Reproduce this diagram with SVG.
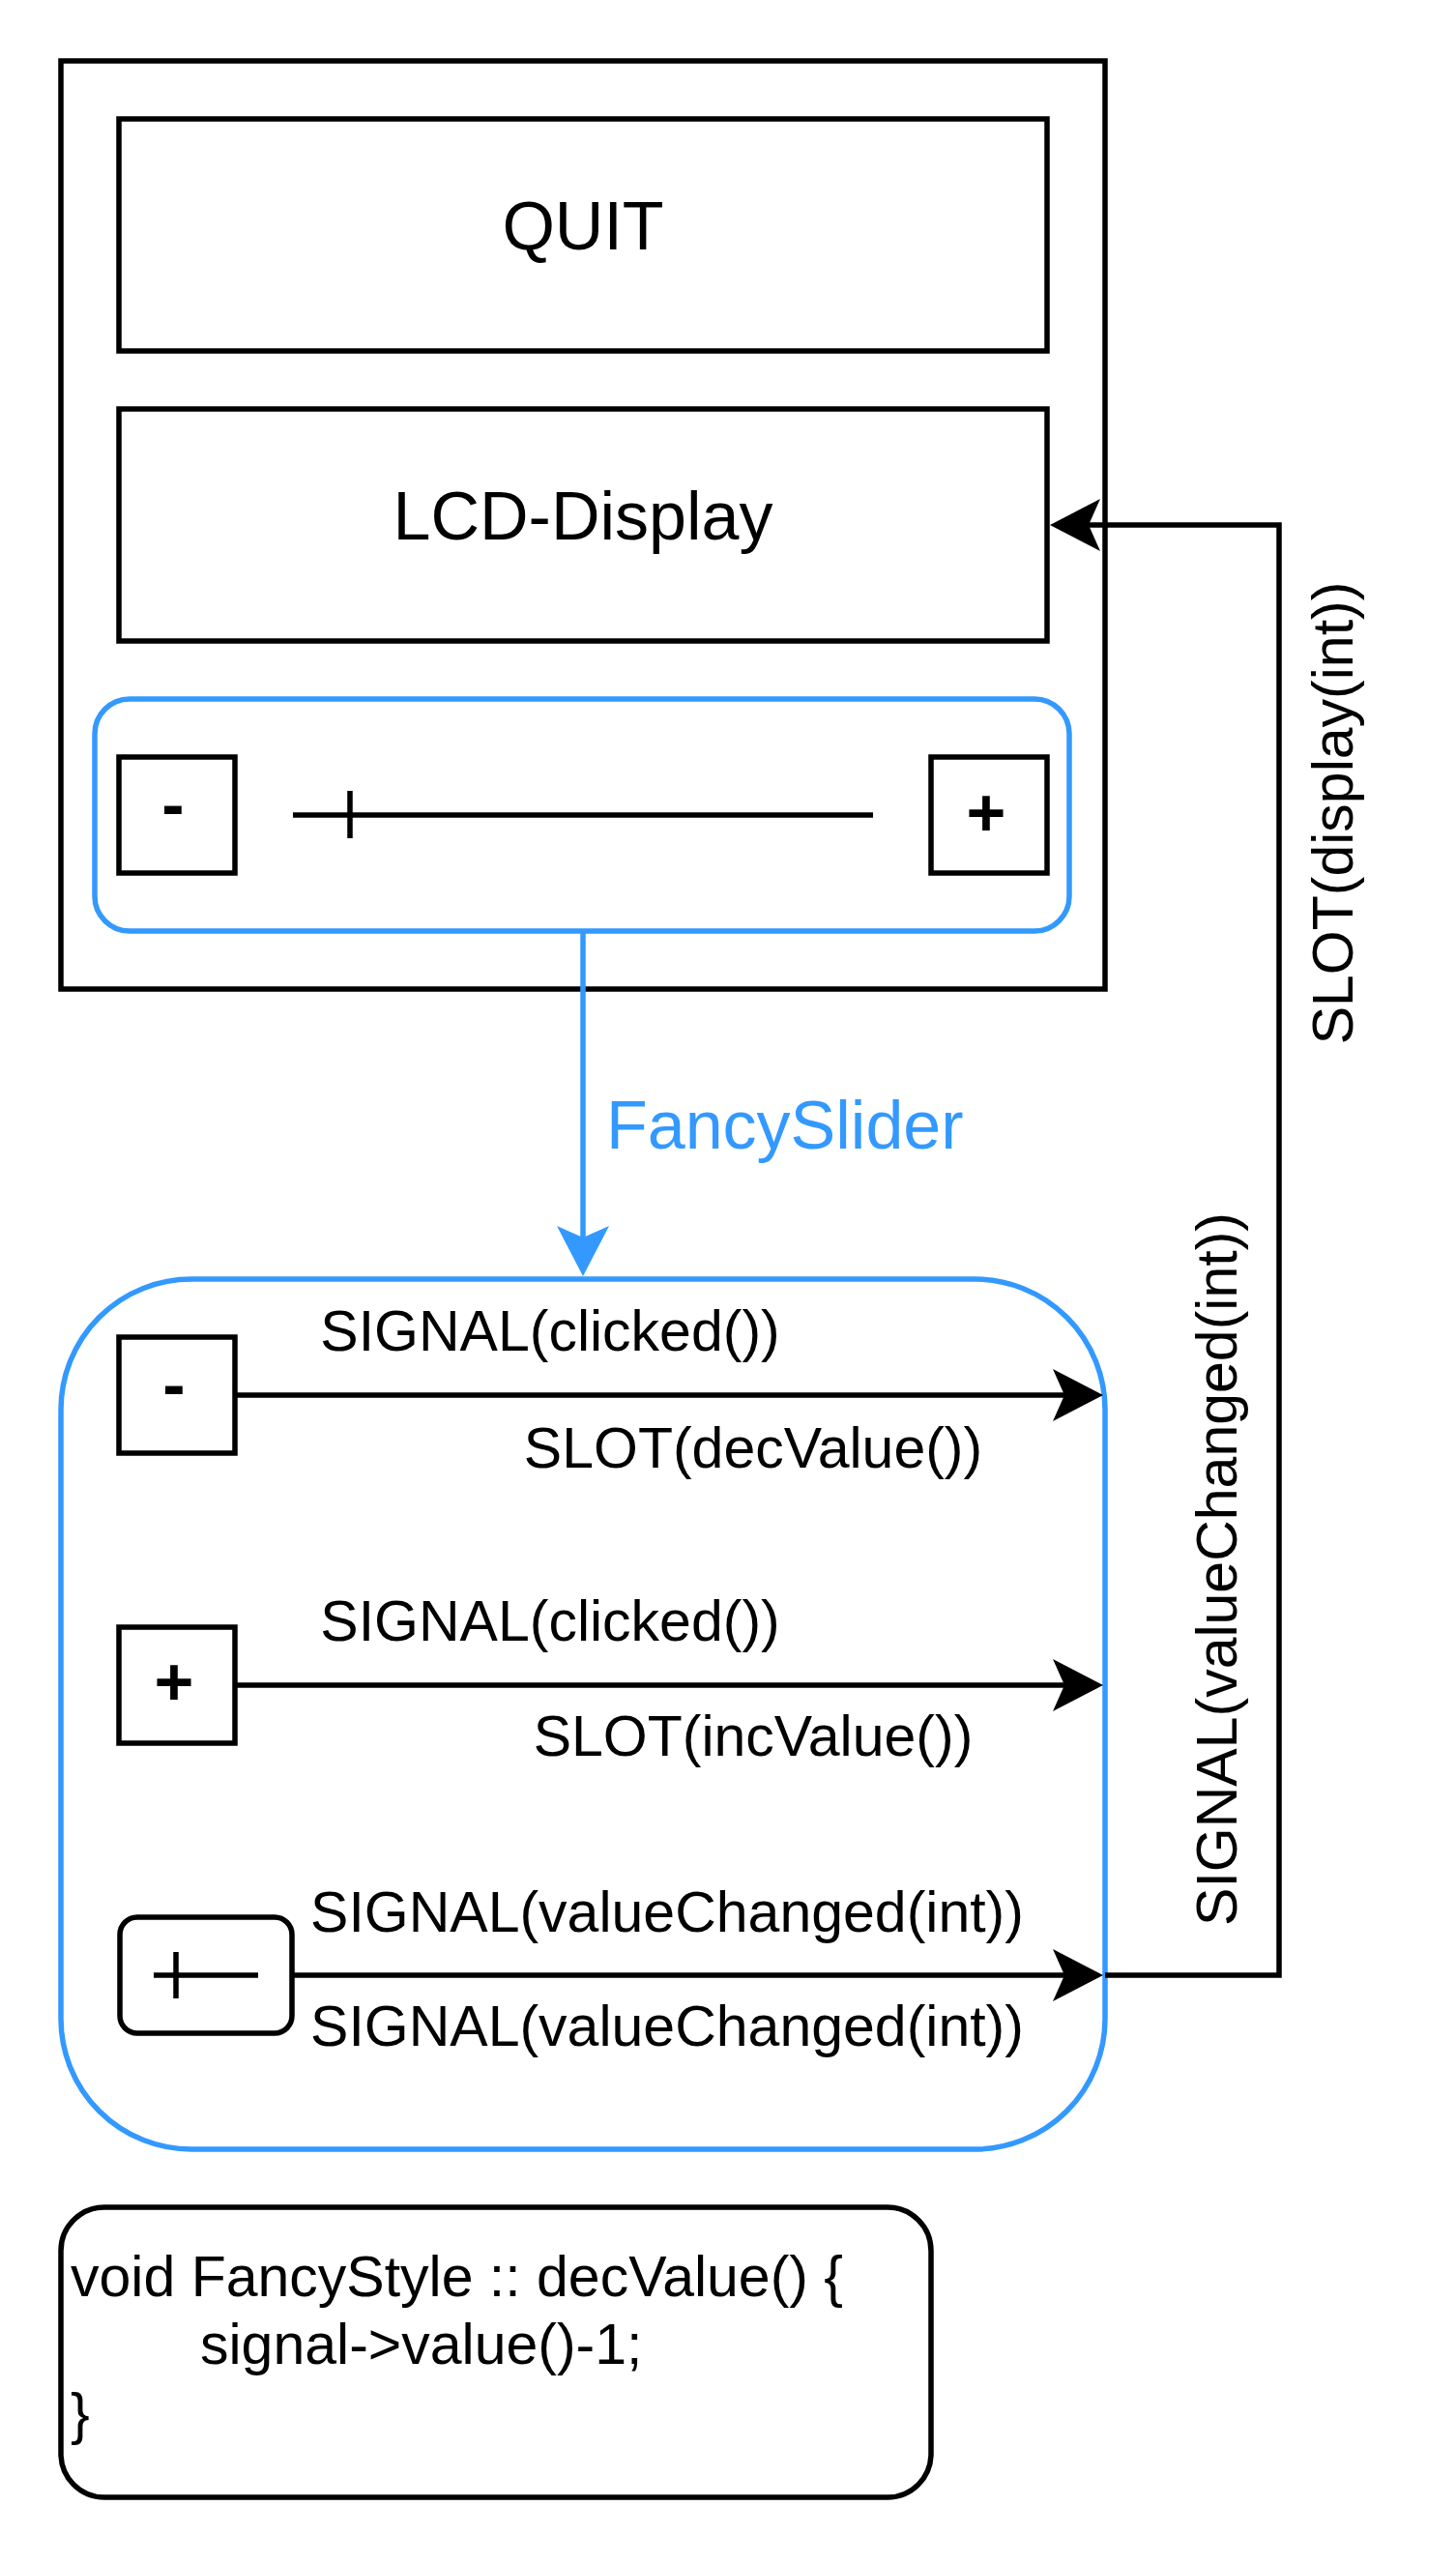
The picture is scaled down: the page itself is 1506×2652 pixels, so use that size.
<svg xmlns="http://www.w3.org/2000/svg" width="1506" height="2652" viewBox="0 0 1506 2652">
  <style>
    .box { fill: #ffffff; stroke: #000000; stroke-width: 5.5; }
    .blue { fill: #ffffff; stroke: #3399FF; stroke-width: 5.5; }
    .ln { fill: none; stroke: #000000; stroke-width: 5.5; }
    .bln { fill: none; stroke: #3399FF; stroke-width: 5.5; }
    text { font-family: "Liberation Sans", Arial, Helvetica, sans-serif; fill: #000000; }
    .big { font-size: 70px; text-anchor: middle; }
    .lbl { font-size: 59px; text-anchor: middle; }
    .code { font-size: 59px; }
    .sym { font-size: 70px; font-weight: bold; text-anchor: middle; }
    .btxt { font-size: 70px; fill: #3399FF; }
  </style>
  <defs>
    <marker id="ah" markerUnits="userSpaceOnUse" viewBox="-14 -29 56 58" markerWidth="56" markerHeight="58" refX="0" refY="0" orient="auto">
      <path d="M40,0 L-12,-27 L0,0 L-12,27 Z" fill="#000000"/>
    </marker>
    <marker id="ahb" markerUnits="userSpaceOnUse" viewBox="-14 -29 56 58" markerWidth="56" markerHeight="58" refX="0" refY="0" orient="auto">
      <path d="M40,0 L-12,-27 L0,0 L-12,27 Z" fill="#3399FF"/>
    </marker>
  </defs>

  <g id="window">
    <rect class="box" x="63" y="63" width="1080" height="960"/>
  </g>
  <g id="quit">
    <rect class="box" x="123" y="123" width="960" height="240"/>
    <text class="big" x="603" y="258">QUIT</text>
  </g>
  <g id="lcd">
    <rect class="box" x="123" y="423" width="960" height="240"/>
    <text class="big" x="603" y="558">LCD-Display</text>
  </g>
  <g id="slider-widget">
    <rect class="blue" x="98" y="723" width="1008" height="240" rx="36" ry="36"/>
    <rect class="box" x="123" y="783" width="120" height="120"/>
    <text class="sym" x="179" y="856">-</text>
    <line class="ln" x1="303" y1="843" x2="903" y2="843"/>
    <line class="ln" x1="362" y1="818" x2="362" y2="867"/>
    <rect class="box" x="963" y="783" width="120" height="120"/>
    <text class="sym" x="1020" y="865">+</text>
  </g>

  <g id="fancyslider">
    <rect class="blue" x="63" y="1323" width="1080" height="900" rx="135" ry="135"/>
  </g>
  <g id="minus-btn">
    <rect class="box" x="123" y="1383" width="120" height="120"/>
    <text class="sym" x="180" y="1456">-</text>
  </g>
  <g id="plus-btn">
    <rect class="box" x="123" y="1683" width="120" height="120"/>
    <text class="sym" x="180" y="1764">+</text>
  </g>
  <g id="slider-btn">
    <rect class="box" x="124" y="1983" width="178" height="120" rx="18" ry="18"/>
    <line class="ln" x1="159" y1="2043" x2="267" y2="2043"/>
    <line class="ln" x1="182" y1="2019" x2="182" y2="2067"/>
  </g>

  <g id="code">
    <rect class="box" x="63" y="2283" width="900" height="300" rx="45" ry="45"/>
    <text class="code" x="73" y="2375">void FancyStyle :: decValue() {</text>
    <text class="code" x="207" y="2445">signal-&gt;value()-1;</text>
    <text class="code" x="73" y="2517">}</text>
  </g>

  <g id="connectors">
    <line class="bln" x1="603" y1="963" x2="603" y2="1280" marker-end="url(#ahb)"/>
    <text class="btxt" x="627" y="1188">FancySlider</text>

    <line class="ln" x1="243" y1="1443" x2="1101" y2="1443" marker-end="url(#ah)"/>
    <text class="lbl" x="569" y="1397">SIGNAL(clicked())</text>
    <text class="lbl" x="779" y="1518">SLOT(decValue())</text>

    <line class="ln" x1="243" y1="1743" x2="1101" y2="1743" marker-end="url(#ah)"/>
    <text class="lbl" x="569" y="1697">SIGNAL(clicked())</text>
    <text class="lbl" x="779" y="1816">SLOT(incValue())</text>

    <line class="ln" x1="302" y1="2043" x2="1101" y2="2043" marker-end="url(#ah)"/>
    <text class="lbl" x="690" y="1998">SIGNAL(valueChanged(int))</text>
    <text class="lbl" x="690" y="2116">SIGNAL(valueChanged(int))</text>

    <path class="ln" d="M1143,2043 L1323,2043 L1323,543 L1126,543" marker-end="url(#ah)"/>
    <text class="lbl" transform="translate(1279,1623) rotate(-90)">SIGNAL(valueChanged(int))</text>
    <text class="lbl" transform="translate(1399,841) rotate(-90)">SLOT(display(int))</text>
  </g>
</svg>
